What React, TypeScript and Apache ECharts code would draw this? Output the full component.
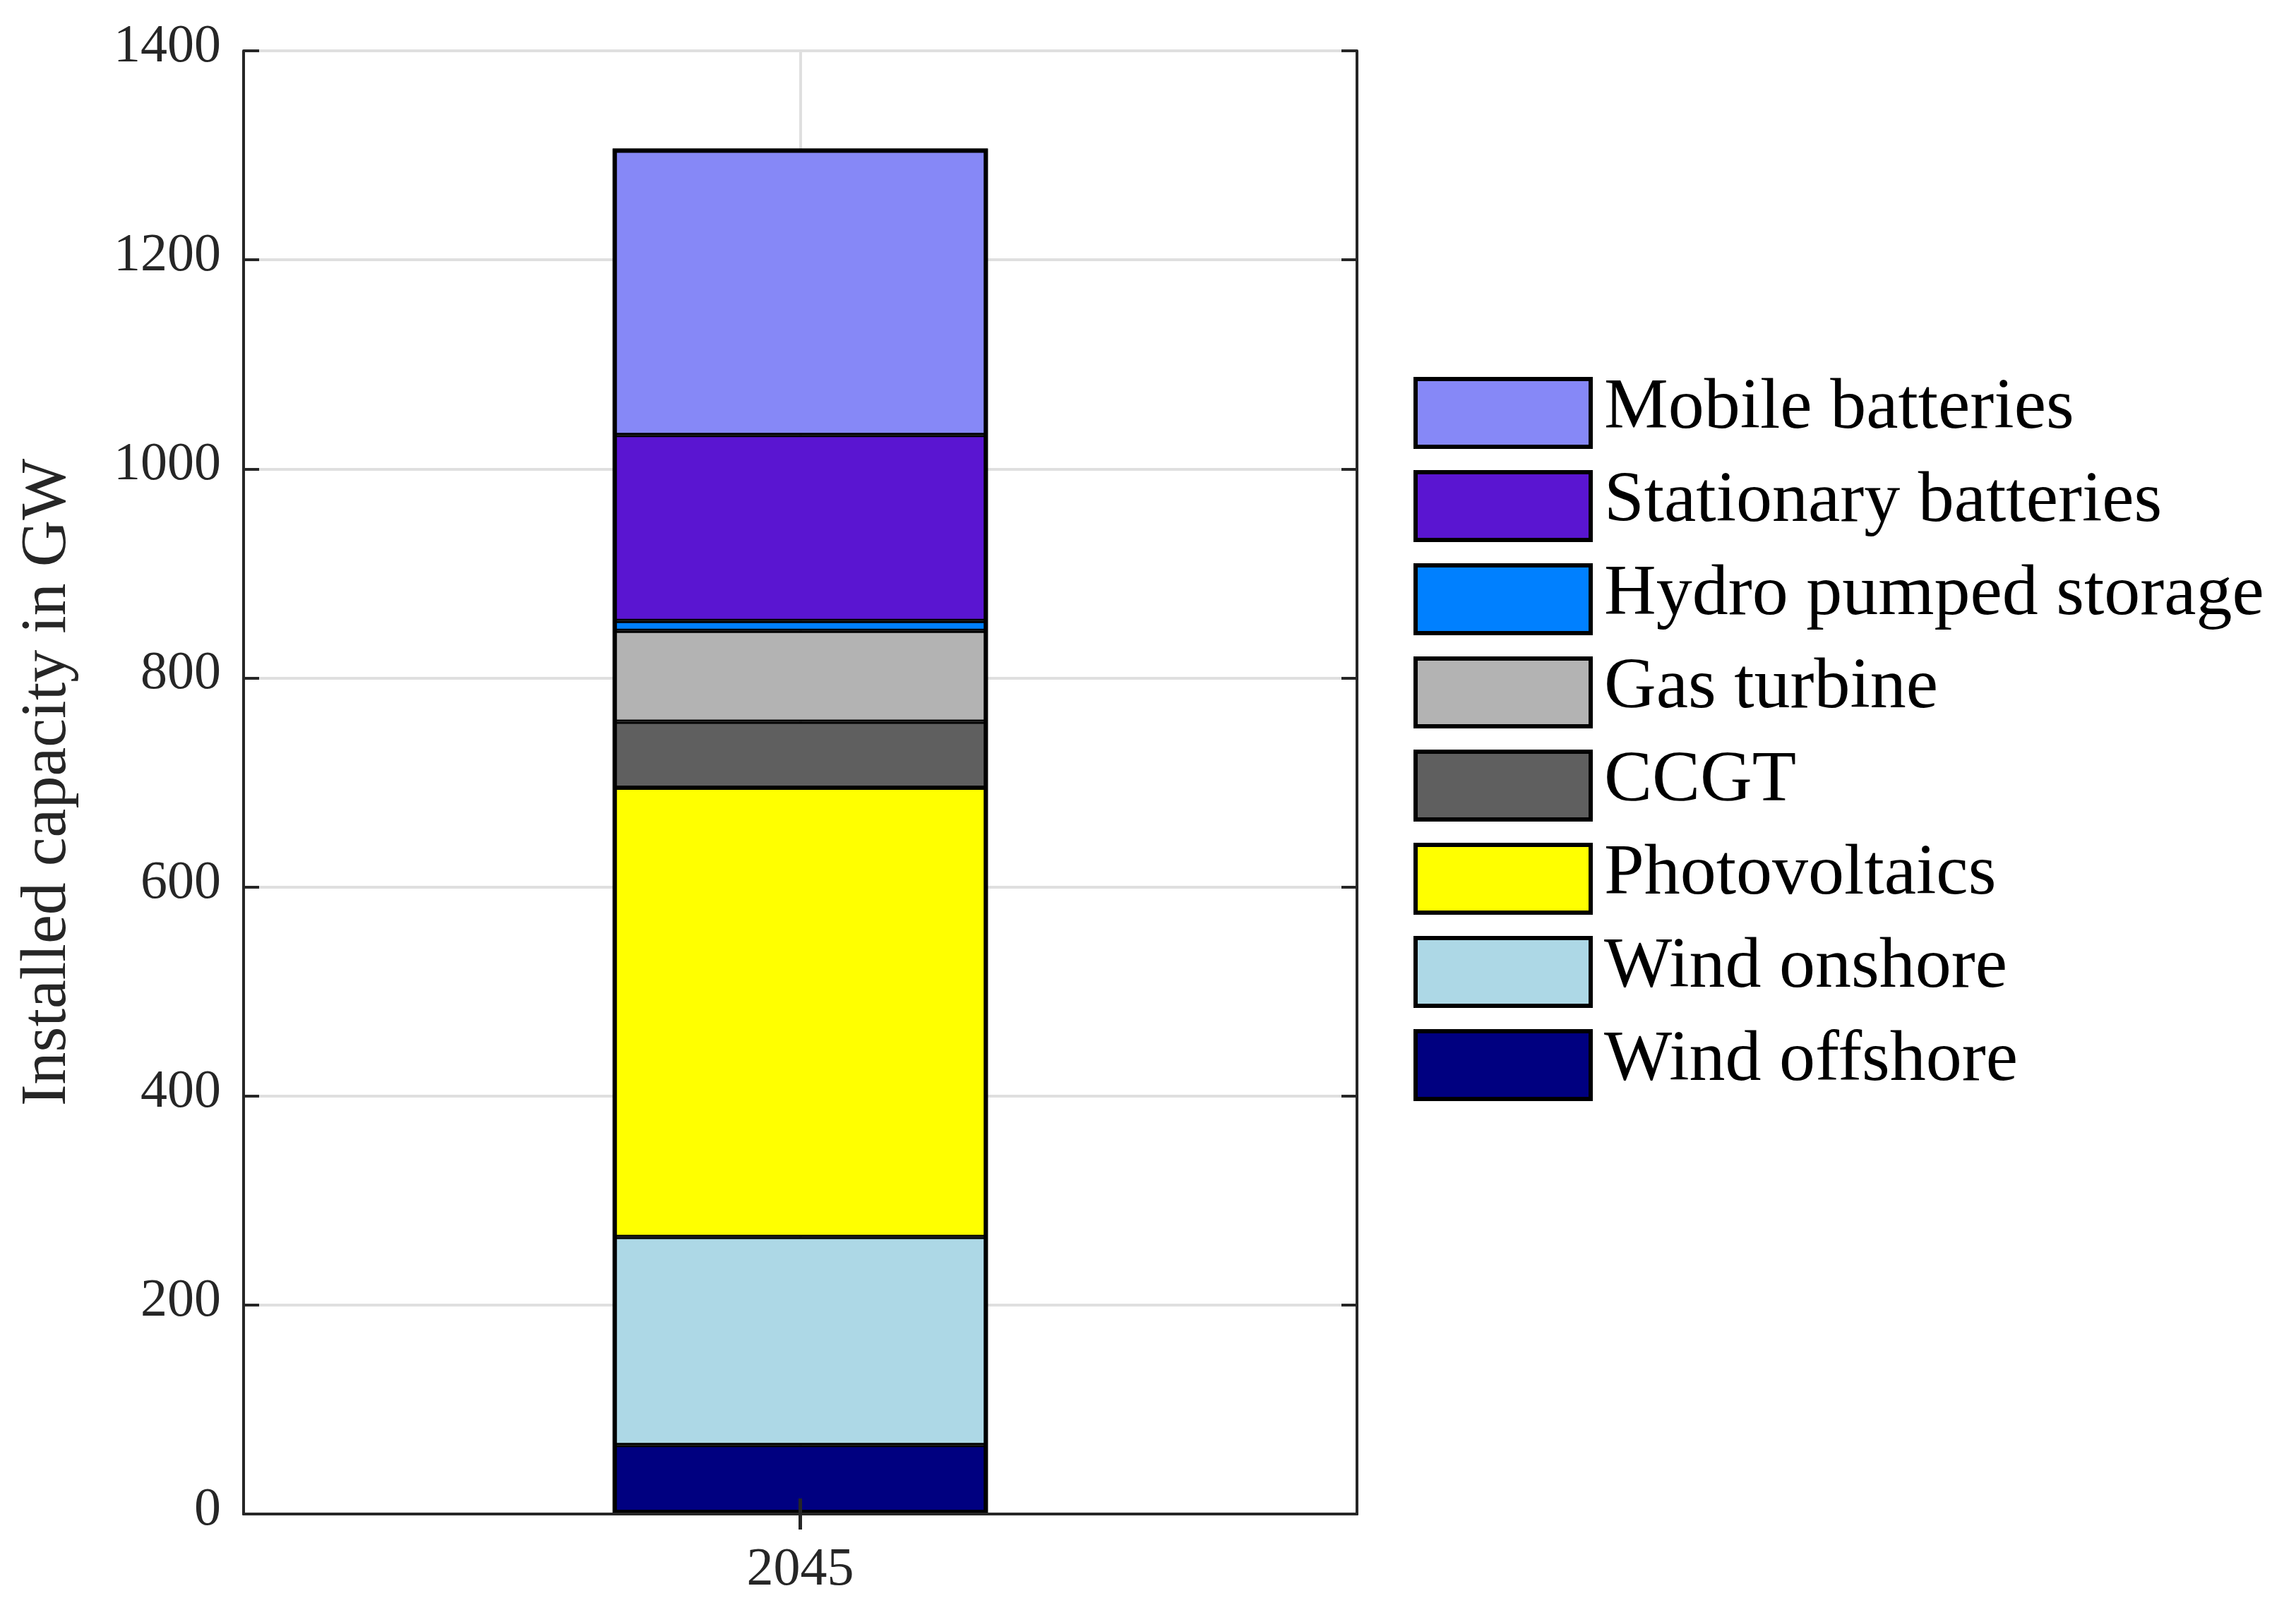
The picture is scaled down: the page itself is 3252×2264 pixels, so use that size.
import React, { useEffect, useRef } from "react";
import * as echarts from "echarts";

const categories = ["2045"];
const seriesNames = [
  "Wind offshore",
  "Wind onshore",
  "Photovoltaics",
  "CCGT",
  "Gas turbine",
  "Hydro pumped storage",
  "Stationary batteries",
  "Mobile batteries",
];
const windOffshore = [66];
const windOnshore = [199];
const photovoltaics = [430];
const ccgt = [63];
const gasTurbine = [87];
const hydroPumped = [9.5];
const stationaryBatteries = [178];
const mobileBatteries = [274];
const seriesColors = [
  "#000080",
  "#ADD8E6",
  "#FFFF00",
  "#5F5F5F",
  "#B3B3B3",
  "#0080FF",
  "#5A15D1",
  "#8688F7",
];
const yTicks = { min: 0, max: 1400, interval: 200 };
const yAxisTitle = "Installed capacity in GW";

const FONT = "Liberation Serif";
const AXIS_COLOR = "#262626";
const GRID_COLOR = "#DFDFDF";
const BAR_WIDTH = "33.7%";

export default function App() {
  const ref = useRef<HTMLDivElement>(null);
  useEffect(() => {
    document.body.style.margin = "0";
    if (!ref.current) return;
    const chart = echarts.init(ref.current, undefined, { renderer: "svg" });
    const values = [
      windOffshore,
      windOnshore,
      photovoltaics,
      ccgt,
      gasTurbine,
      hydroPumped,
      stationaryBatteries,
      mobileBatteries,
    ];
    const series: any[] = seriesNames.map((name, i) => ({
      name,
      type: "bar",
      stack: "total",
      data: values[i],
      barWidth: BAR_WIDTH,
      barGap: "-100%",
      xAxisIndex: 0,
      yAxisIndex: 0,
      itemStyle: { color: seriesColors[i], borderColor: "#000", borderWidth: 3 },
      emphasis: { disabled: true },
    }));
    // outer outline of the whole stacked bar (sum of the segments)
    const totals = categories.map((_, c) =>
      values.reduce((s, arr) => s + arr[c], 0)
    );
    series.push({
      name: "outline",
      type: "bar",
      stack: "outline",
      data: totals,
      barWidth: BAR_WIDTH,
      barGap: "-100%",
      xAxisIndex: 0,
      yAxisIndex: 0,
      itemStyle: { color: "rgba(0,0,0,0)", borderColor: "#000", borderWidth: 6 },
      emphasis: { disabled: true },
      silent: true,
    });
    chart.setOption({
      animation: false,
      backgroundColor: "#fff",
      textStyle: { fontFamily: FONT },
      grid: { left: 345, right: 1330, top: 72, bottom: 119, containLabel: false },
      legend: {
        orient: "vertical",
        left: 2002,
        top: 520,
        padding: 0,
        itemWidth: 248,
        itemHeight: 96,
        itemGap: 16,
        icon: "rect",
        data: [...seriesNames].reverse(),
        itemStyle: { borderColor: "#000", borderWidth: 6 },
        formatter: (name: string) => `{t|${name}}\n{s| }`,
        textStyle: {
          fontFamily: FONT,
          fontSize: 102,
          color: "#000",
          padding: [0, 0, 0, 14],
          rich: {
            t: { fontFamily: FONT, fontSize: 102, lineHeight: 96, color: "#000" },
            s: { fontSize: 2, lineHeight: 28 },
          },
        },
        selectedMode: false,
      },
      xAxis: [
        {
          type: "category",
          data: categories,
          position: "bottom",
          z: 10,
          axisLine: { show: true, lineStyle: { color: AXIS_COLOR, width: 4 } },
          axisTick: {
            show: true,
            inside: true,
            alignWithLabel: true,
            length: 22,
            lineStyle: { color: AXIS_COLOR, width: 5 },
          },
          axisLabel: {
            fontFamily: FONT,
            fontSize: 76,
            color: AXIS_COLOR,
            margin: 36,
          },
          splitLine: { show: false },
        },
        {
          type: "category",
          data: categories,
          position: "top",
          axisLine: { show: true, lineStyle: { color: AXIS_COLOR, width: 4 } },
          axisTick: {
            show: true,
            inside: true,
            alignWithLabel: true,
            length: 22,
            lineStyle: { color: AXIS_COLOR, width: 5 },
          },
          axisLabel: { show: false },
          splitLine: {
            show: true,
            alignWithLabel: true,
            lineStyle: { color: GRID_COLOR, width: 4 },
          },
        },
      ],
      yAxis: [
        {
          type: "value",
          position: "left",
          min: yTicks.min,
          max: yTicks.max,
          interval: yTicks.interval,
          name: yAxisTitle,
          nameLocation: "middle",
          nameGap: 238,
          nameTextStyle: { fontFamily: FONT, fontSize: 92, color: AXIS_COLOR },
          axisLine: { show: true, lineStyle: { color: AXIS_COLOR, width: 4 } },
          axisTick: {
            show: true,
            inside: true,
            length: 22,
            lineStyle: { color: AXIS_COLOR, width: 4 },
          },
          axisLabel: {
            fontFamily: FONT,
            fontSize: 76,
            color: AXIS_COLOR,
            margin: 32,
            formatter: (v: number) => `{t|${v}}\n{s| }`,
            rich: {
              t: { fontFamily: FONT, fontSize: 76, lineHeight: 76, color: AXIS_COLOR },
              s: { fontSize: 2, lineHeight: 22 },
            },
          },
          splitLine: { show: true, lineStyle: { color: GRID_COLOR, width: 4 } },
        },
        {
          type: "value",
          position: "right",
          min: yTicks.min,
          max: yTicks.max,
          interval: yTicks.interval,
          axisLine: { show: true, lineStyle: { color: AXIS_COLOR, width: 4 } },
          axisTick: {
            show: true,
            inside: true,
            length: 22,
            lineStyle: { color: AXIS_COLOR, width: 4 },
          },
          axisLabel: { show: false },
          splitLine: { show: false },
        },
      ],
      series,
    });
    return () => chart.dispose();
  }, []);
  return <div ref={ref} style={{ width: 3252, height: 2264 }} />;
}
